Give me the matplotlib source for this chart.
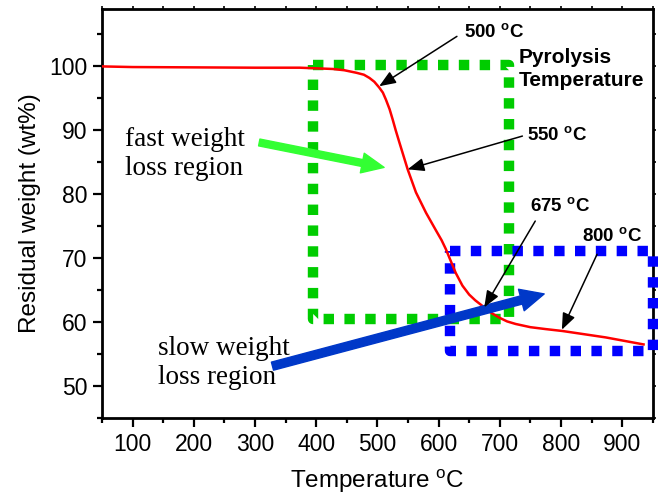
import matplotlib
matplotlib.use("Agg")
import matplotlib.pyplot as plt
import matplotlib.ticker as mticker

plt.rcParams["font.family"] = ["Liberation Sans", "DejaVu Sans"]
plt.rcParams["mathtext.fontset"] = "custom"
plt.rcParams["mathtext.rm"] = "Liberation Sans"
plt.rcParams["mathtext.bf"] = "Liberation Sans:bold"

# TGA curve
temp = [50, 100, 200, 300, 373, 427, 446, 466, 478, 487, 495, 503, 509, 514,
        520, 525, 530, 536, 549.5, 563, 579.5, 596, 605, 612, 618, 628, 639,
        650, 660, 672, 685, 699, 712, 726, 750, 775, 802.5, 873, 935]
weight = [100.0, 99.9, 99.85, 99.8, 99.8, 99.6, 99.4, 99.0, 98.7, 98.2, 97.6,
          96.7, 95.9, 94.8, 93.3, 91.7, 90.0, 88.1, 83.9, 80.3, 77.1, 74.3,
          72.8, 71.4, 70.0, 67.7, 65.7, 64.3, 63.4, 62.5, 61.5, 60.7, 60.1,
          59.7, 59.2, 58.9, 58.6, 57.6, 56.5]

# dotted regions (x0, x1, y0, y1)
fast_box = (395, 715, 60.5, 100.2)
slow_box = (618, 950, 55.5, 71.1)

# point annotations: label, label position, arrow tail, arrow tip
points = [
    ("500", (641, 104.5), (630, 104.7), (503, 96.9)),
    ("550", (745, 88.3), (737, 89.1), (549.5, 83.9)),
    ("675", (750, 77.2), (758, 75.8), (674.7, 62.3)),
    ("800", (835, 72.5), (859, 70.6), (801.5, 58.8)),
]

fig = plt.figure(figsize=(6.58, 4.94), dpi=100)
ax = fig.add_axes([0.155, 0.154, 0.837, 0.828])

ax.plot(temp, weight, color="red", lw=1.8, zorder=4)


def box(b, color):
    x0, x1, y0, y1 = b
    ax.plot([x0, x1, x1, x0, x0], [y1, y1, y0, y0, y1], color=color, lw=7.5,
            linestyle=(0, (1, 1.0)), clip_on=False, zorder=3)


box(fast_box, "#00CC00")
box(slow_box, "#0000FF")

for lab, pos, tail, tip in points:
    ax.text(pos[0], pos[1], lab + r" $^{\mathbf{o}}$C", fontsize=13.5,
            fontweight="bold", ha="left", va="baseline")
    ax.annotate("", xy=tip, xytext=tail,
                arrowprops=dict(arrowstyle="-|>,head_length=0.5,head_width=0.2",
                                color="black", lw=1.1,
                                mutation_scale=20, shrinkA=0, shrinkB=0),
                zorder=6)

ax.text(731, 102.9, "Pyrolysis\nTemperature", fontsize=15, fontweight="bold",
        ha="left", va="top", linespacing=1.25)

# region labels and big arrows
ax.text(87, 86.3, "fast weight\nloss region", family="Liberation Serif",
        fontsize=19.5, ha="left", va="center")
ax.annotate("", xy=(511, 84.2), xytext=(307, 88.1),
            arrowprops=dict(arrowstyle="simple,head_length=0.8,head_width=0.72,tail_width=0.25",
                            color="#33FF33", mutation_scale=20, shrinkA=0, shrinkB=0),
            zorder=5)
ax.text(142, 53.6, "slow weight\nloss region", family="Liberation Serif",
        fontsize=19.5, ha="left", va="center")
ax.annotate("", xy=(772.6, 64.4), xytext=(328.6, 53.1),
            arrowprops=dict(arrowstyle="simple,head_length=0.85,head_width=0.8,tail_width=0.3",
                            color="#0038C8", mutation_scale=20, shrinkA=0, shrinkB=0),
            zorder=5)

ax.set_xlim(50, 950)
ax.set_ylim(45, 109)
ax.xaxis.set_major_locator(mticker.MultipleLocator(100))
ax.xaxis.set_minor_locator(mticker.MultipleLocator(50))
ax.yaxis.set_major_locator(mticker.MultipleLocator(10))
ax.yaxis.set_minor_locator(mticker.MultipleLocator(5))
ax.tick_params(which="major", direction="out", length=6.5, width=1.6,
               labelsize=16.5, pad=4)
ax.tick_params(which="minor", direction="out", length=3.8, width=1.6)
for s in ax.spines.values():
    s.set_linewidth(2)

# short ticks on top and right
top = ax.secondary_xaxis("top")
top.xaxis.set_major_locator(mticker.MultipleLocator(50))
top.tick_params(direction="out", length=2.5, width=1.2, labeltop=False)
right = ax.secondary_yaxis("right")
right.yaxis.set_major_locator(mticker.MultipleLocator(5))
right.tick_params(direction="out", length=2.5, width=1.2, labelright=False)

ax.set_xlabel(r"Temperature $^{\rm o}$C", fontsize=17.5, labelpad=8)
ax.set_ylabel("Residual weight (wt%)", fontsize=17.5, labelpad=6)

fig.savefig("out.png", dpi=100)
